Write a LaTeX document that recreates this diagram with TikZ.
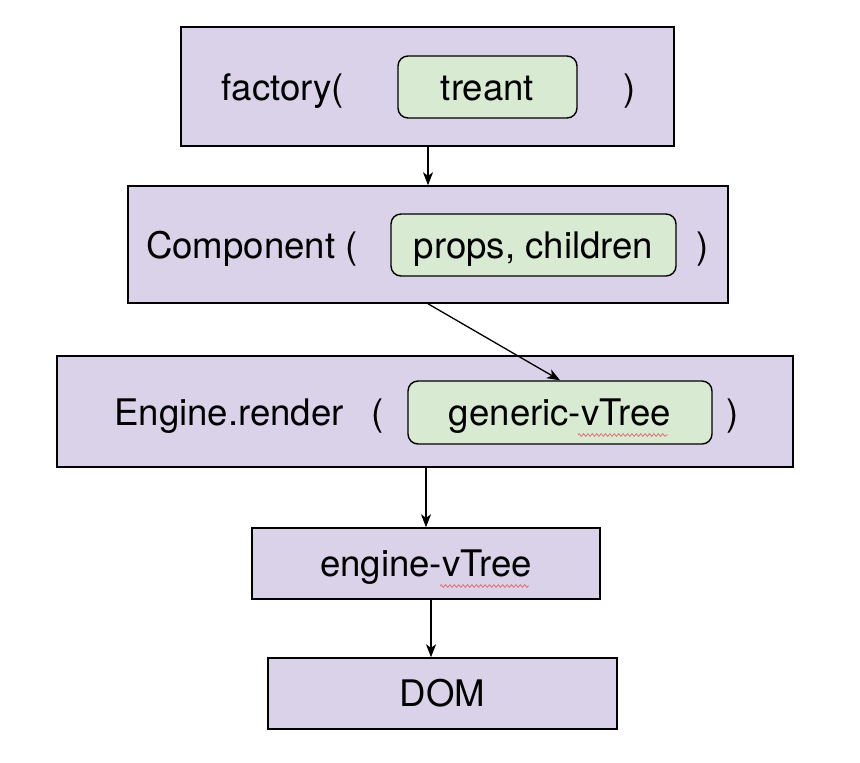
\documentclass[tikz,border=0pt]{standalone}
\usepackage{fontspec}
\setmainfont{TeX Gyre Heros}
\usetikzlibrary{positioning,arrows.meta,decorations.pathmorphing}
\definecolor{callPurple}{HTML}{D9D2E9}
\definecolor{argGreen}{HTML}{D9EAD3}
\definecolor{spellRed}{HTML}{E06666}

\begin{document}
\begin{tikzpicture}[x=0.5pt, y=-0.5pt,
    txt/.style={font=\fontsize{18.3pt}{22pt}\selectfont, text height=13pt, text depth=0pt, inner sep=0pt},
    callbox/.style={txt, draw, fill=callPurple, line width=0.75pt},
    argbox/.style={txt, draw, fill=argGreen, line width=0.7pt, rounded corners=5pt},
    flow/.style={-{Stealth[length=6.5pt,width=5pt,inset=1.8pt]}, line width=0.65pt},
    spell/.style={spellRed, line width=0.35pt, decorate, decoration={zigzag, amplitude=0.7pt, segment length=2.2pt}}]
        \useasboundingbox (0,0) rectangle (860,762);
        \node[callbox, minimum width=246.5pt, minimum height=59.5pt] (factory) at (427.5,86.5) {};
        \node[txt] (factoryOpen) at (283,87.5) {factory(};
        \node[argbox, minimum width=89.5pt, minimum height=31pt] (treant) at (487.5,87) {treant};
        \node[txt] (factoryClose) at (630,87.5) {)};
        \node[callbox, minimum width=300pt, minimum height=58.5pt] (component) at (428,244.5) {};
        \node[txt] (componentOpen) at (252,245.5) {Component (};
        \node[argbox, minimum width=142.5pt, minimum height=31pt] (props) at (533.5,245) {props, children};
        \node[txt] (componentClose) at (703,245.5) {)};
        \node[callbox, minimum width=368pt, minimum height=55.5pt] (engine) at (425,411.5) {};
        \node[txt] (engineName) at (229,412.5) {Engine.render};
        \node[txt] (engineOpen) at (378,412.5) {(};
        \node[argbox, minimum width=152pt, minimum height=31.5pt] (generic) at (560,412.5) {generic-vTree};
        \node[txt] (engineClose) at (733,412.5) {)};
        \node[callbox, minimum width=174pt, minimum height=35.5pt] (engineTree) at (426,563.5) {engine-vTree};
        \node[callbox, minimum width=174.5pt, minimum height=35.5pt] (dom) at (442.5,693.5) {DOM};
        \draw[flow] (component.north |- factory.south) -- (component.north);
        \draw[flow] (component.south) -- (generic.north);
        \draw[flow] (engineTree.north |- engine.south) -- (engineTree.north);
        \draw[flow] ([xshift=2.5pt]engineTree.south) -- ([xshift=2.5pt]engineTree.south |- dom.north);
        \draw[spell] (578,435) -- (668,435);
        \draw[spell] (440,586) -- (529,586);
      \end{tikzpicture}
\end{document}
